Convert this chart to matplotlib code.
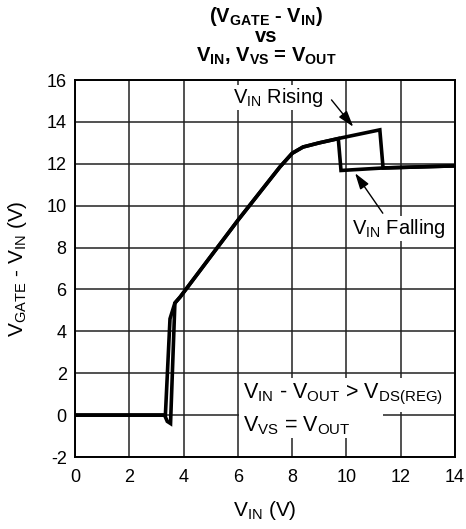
import matplotlib
matplotlib.use("Agg")
import matplotlib.pyplot as plt
from matplotlib.patches import Rectangle

plt.rcParams['font.family'] = ['Liberation Sans', 'DejaVu Sans']
plt.rcParams['mathtext.fontset'] = 'custom'
plt.rcParams['mathtext.rm'] = 'Liberation Sans'
plt.rcParams['mathtext.it'] = 'Liberation Sans'
plt.rcParams['mathtext.bf'] = 'Liberation Sans:bold'
plt.rcParams['axes.unicode_minus'] = False

# V_IN rising sweep
vin_rise = [0.0, 3.30, 3.40, 3.52, 3.68, 3.88, 6.00, 7.55, 8.00, 8.40, 9.00, 9.75, 11.23, 11.35, 14.0]
vgate_rise = [0.0, 0.0, -0.30, -0.40, 5.35, 5.65, 9.30, 11.85, 12.50, 12.80, 13.00, 13.22, 13.62, 11.80, 11.90]

# V_IN falling sweep
vin_fall = [14.0, 11.35, 9.80, 9.70, 9.00, 8.40, 8.00, 7.55, 6.00, 3.88, 3.68, 3.50, 3.33, 0.0]
vgate_fall = [11.90, 11.80, 11.68, 13.20, 13.00, 12.80, 12.50, 11.85, 9.30, 5.65, 5.35, 4.60, 0.0, 0.0]

xticks = [0, 2, 4, 6, 8, 10, 12, 14]
yticks = [-2, 0, 2, 4, 6, 8, 10, 12, 14, 16]

fig = plt.figure(figsize=(4.66, 5.29), dpi=100)
ax = fig.add_axes([75 / 466, 1 - 457 / 529, 380 / 466, 377 / 529])

ax.plot(vin_rise, vgate_rise, color='black', lw=2.6, solid_joinstyle='miter', zorder=3)
ax.plot(vin_fall, vgate_fall, color='black', lw=2.6, solid_joinstyle='miter', zorder=3)

ax.set_xlim(0, 14)
ax.set_ylim(-2, 16)
ax.set_xticks(xticks)
ax.set_yticks(yticks)
ax.tick_params(length=0, labelsize=13)
ax.tick_params(axis='x', pad=9)
ax.tick_params(axis='y', pad=6)
ax.grid(True, color='#222222', lw=1.1)
ax.set_axisbelow(True)
for s in ax.spines.values():
    s.set_linewidth(1.4)
    s.set_color('black')
    s.set_zorder(4)

ax.set_xlabel(r'$\mathregular{V_{IN}}$ (V)', fontsize=15)
ax.set_ylabel(r'$\mathregular{V_{GATE}}$ - $\mathregular{V_{IN}}$ (V)', fontsize=15)
ax.xaxis.set_label_coords(0.5, -0.112)
ax.yaxis.set_label_coords(-0.122, 0.5)

# Title, three centred bold lines
cx = 266 / 466
fig.text(cx, 1 - 16 / 529, r'$\mathbf{(V_{GATE}}$ - $\mathbf{V_{IN})}$',
         ha='center', va='center', fontsize=14.5, fontweight='bold')
fig.text(cx, 1 - 36 / 529, 'vs', ha='center', va='center', fontsize=14.5, fontweight='bold')
fig.text(cx, 1 - 56 / 529, r'$\mathbf{V_{IN}}$, $\mathbf{V_{VS}}$ = $\mathbf{V_{OUT}}$',
         ha='center', va='center', fontsize=14.5, fontweight='bold')

# Sweep direction callouts
arrow_kw = dict(arrowstyle='-|>,head_length=0.7,head_width=0.22', color='black', lw=1.0,
                mutation_scale=14, shrinkA=0, shrinkB=0)
label_box = dict(facecolor='white', edgecolor='none', pad=1.0)
ax.text(9.17, 14.9, r'$\mathregular{V_{IN}}$ Rising', fontsize=14.5, ha='right', va='baseline',
        bbox=label_box, zorder=5)
ax.annotate('', xy=(10.25, 13.77), xytext=(9.45, 15.05), arrowprops=arrow_kw, zorder=6)
ax.text(10.2, 8.65, r'$\mathregular{V_{IN}}$ Falling', fontsize=14.5, ha='left', va='baseline',
        bbox=label_box, zorder=5)
ax.annotate('', xy=(10.32, 11.55), xytext=(11.34, 9.64), arrowprops=arrow_kw, zorder=6)

# Operating condition notes on a white backing
ax.add_patch(Rectangle((6.04, 0.15), 7.94, 1.62, facecolor='white', edgecolor='none', zorder=1.5))
ax.add_patch(Rectangle((6.04, -1.09), 5.3, 1.26, facecolor='white', edgecolor='none', zorder=1.5))
ax.text(6.19, 0.80, r'$\mathregular{V_{IN}}$ - $\mathregular{V_{OUT}}$ > $\mathregular{V_{DS(REG)}}$',
        fontsize=15.5, ha='left', va='baseline', zorder=5)
ax.text(6.19, -0.79, r'$\mathregular{V_{VS}}$ = $\mathregular{V_{OUT}}$',
        fontsize=15.5, ha='left', va='baseline', zorder=5)

fig.savefig('out.png', dpi=100)
